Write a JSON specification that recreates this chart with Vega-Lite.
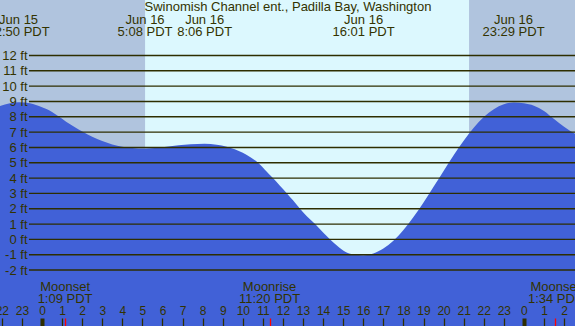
{
  "$schema": "https://vega.github.io/schema/vega-lite/v6.json",
  "width": 575,
  "height": 326,
  "autosize": {"type": "none"},
  "padding": 0,
  "background": "#dcf8fe",
  "config": {
    "view": {"stroke": null, "fill": "#dcf8fe"},
    "font": "Liberation Sans",
    "text": {"font": "Liberation Sans", "fontSize": 13, "color": "#333300"}
  },
  "layer": [
    {
      "data": {"values": [{"t": -2.2, "t2": 5.133}, {"t": 21.267, "t2": 26.7}]},
      "mark": {"type": "rect", "color": "#b0c4de", "clip": true},
      "encoding": {
        "x": {"field": "t", "type": "quantitative", "scale": {"domain": [-2.092, 26.544], "nice": false, "zero": false}},
        "x2": {"field": "t2"}
      }
    },
    {
      "data": {"values": [
        {"t": -2.1, "ft": 8.70}, {"t": -1.6, "ft": 8.88}, {"t": -1.15, "ft": 8.95}, {"t": -0.6, "ft": 8.88},
        {"t": 0, "ft": 8.62}, {"t": 0.5, "ft": 8.32}, {"t": 0.8, "ft": 8.05}, {"t": 1.2, "ft": 7.68},
        {"t": 1.6, "ft": 7.35}, {"t": 2.05, "ft": 7.0}, {"t": 2.5, "ft": 6.7}, {"t": 3.0, "ft": 6.42},
        {"t": 3.5, "ft": 6.2}, {"t": 4.0, "ft": 6.05}, {"t": 4.5, "ft": 5.97}, {"t": 5.1, "ft": 5.93},
        {"t": 5.6, "ft": 5.96}, {"t": 6.2, "ft": 6.05}, {"t": 6.8, "ft": 6.15}, {"t": 7.4, "ft": 6.21},
        {"t": 8.1, "ft": 6.24}, {"t": 8.7, "ft": 6.18}, {"t": 9.2, "ft": 6.05}, {"t": 9.6, "ft": 5.88},
        {"t": 10.0, "ft": 5.65}, {"t": 10.4, "ft": 5.35}, {"t": 10.76, "ft": 5.0}, {"t": 11.1, "ft": 4.55},
        {"t": 11.5, "ft": 4.0}, {"t": 11.85, "ft": 3.5}, {"t": 12.2, "ft": 3.0}, {"t": 12.5, "ft": 2.55},
        {"t": 12.85, "ft": 2.0}, {"t": 13.2, "ft": 1.5}, {"t": 13.6, "ft": 1.0}, {"t": 14.0, "ft": 0.45},
        {"t": 14.35, "ft": 0.0}, {"t": 14.7, "ft": -0.42}, {"t": 15.1, "ft": -0.8}, {"t": 15.5, "ft": -0.97},
        {"t": 16.0, "ft": -1.03}, {"t": 16.5, "ft": -0.92}, {"t": 17.0, "ft": -0.6}, {"t": 17.5, "ft": -0.08},
        {"t": 18.0, "ft": 0.62}, {"t": 18.5, "ft": 1.46}, {"t": 19.0, "ft": 2.41}, {"t": 19.5, "ft": 3.43},
        {"t": 20.0, "ft": 4.47}, {"t": 20.5, "ft": 5.49}, {"t": 21.0, "ft": 6.44}, {"t": 21.5, "ft": 7.28},
        {"t": 22.0, "ft": 7.98}, {"t": 22.5, "ft": 8.5}, {"t": 23.0, "ft": 8.82}, {"t": 23.5, "ft": 8.93},
        {"t": 24.0, "ft": 8.88}, {"t": 24.5, "ft": 8.72}, {"t": 25.0, "ft": 8.38}, {"t": 25.5, "ft": 7.85},
        {"t": 26.0, "ft": 7.35}, {"t": 26.6, "ft": 6.85}
      ]},
      "mark": {"type": "area", "color": "#4161d7", "interpolate": "monotone", "clip": true},
      "encoding": {
        "x": {
          "field": "t", "type": "quantitative",
          "axis": {
            "orient": "top", "offset": -326, "title": null, "zindex": 2, "tickCount": 200,
            "values": [-2, -1, 0, 1, 2, 3, 4, 5, 6, 7, 8, 9, 10, 11, 12, 13, 14, 15, 16, 17, 18, 19, 20, 21, 22, 23, 24, 25, 26, 1.15, 11.333, 25.567],
            "labelExpr": "datum.value % 1 == 0 ? '' + ((datum.value + 24) % 24) : ''",
            "domain": false, "grid": false, "tickSize": 8,
            "tickColor": {"condition": {"test": "datum.value % 1 != 0", "value": "#ff0000"}, "value": "#2e2e00"},
            "tickWidth": {"condition": {"test": "datum.value % 24 == 0", "value": 4}, "value": 1.3},
            "labelPadding": 0.5, "labelFlush": false, "labelOverlap": false, "labelBound": false,
            "labelFont": "Liberation Sans", "labelFontSize": 12, "labelColor": "#333300"
          }
        },
        "y": {
          "field": "ft", "type": "quantitative",
          "scale": {"domain": [-5.65, 15.62], "nice": false, "zero": false},
          "axis": {
            "orient": "left", "offset": -29, "title": null, "zindex": 2, "tickCount": 200,
            "values": [-2, -1, 0, 1, 2, 3, 4, 5, 6, 7, 8, 9, 10, 11, 12],
            "labelExpr": "datum.value + ' ft'", "labelOverlap": false,
            "domain": false, "grid": false, "ticks": false, "tickSize": 0,
            "labelPadding": 2, "labelFont": "Liberation Sans", "labelFontSize": 13, "labelColor": "#333300"
          }
        },
        "y2": {"datum": -5.65}
      }
    },
    {
      "data": {"values": [{"ft": -2}, {"ft": -1}, {"ft": 0}, {"ft": 1}, {"ft": 2}, {"ft": 3}, {"ft": 4}, {"ft": 5}, {"ft": 6}, {"ft": 7}, {"ft": 8}, {"ft": 9}, {"ft": 10}, {"ft": 11}, {"ft": 12}]},
      "mark": {"type": "rule", "color": "#2e2e00", "strokeWidth": 1.4},
      "encoding": {
        "y": {"field": "ft", "type": "quantitative"},
        "x": {"datum": -0.65},
        "x2": {"datum": 26.6}
      }
    },
    {
      "data": {"values": [{"label": "Swinomish Channel ent., Padilla Bay, Washington"}]},
      "mark": {"type": "text", "align": "center", "baseline": "alphabetic"},
      "encoding": {
        "text": {"field": "label"},
        "x": {"datum": 12.25},
        "y": {"datum": 14.9}
      }
    },
    {
      "data": {"values": [
        {"t": -1.167, "label": "Jun 15\n22:50 PDT"},
        {"t": 5.133, "label": "Jun 16\n5:08 PDT"},
        {"t": 8.1, "label": "Jun 16\n8:06 PDT"},
        {"t": 16.017, "label": "Jun 16\n16:01 PDT"},
        {"t": 23.483, "label": "Jun 16\n23:29 PDT"}
      ]},
      "mark": {"type": "text", "align": "center", "baseline": "alphabetic", "lineBreak": "\n", "lineHeight": 12},
      "encoding": {
        "text": {"field": "label"},
        "x": {"field": "t", "type": "quantitative"},
        "y": {"datum": 14.05}
      }
    },
    {
      "data": {"values": [
        {"t": 1.15, "label": "Moonset\n1:09 PDT"},
        {"t": 11.333, "label": "Moonrise\n11:20 PDT"},
        {"t": 25.567, "label": "Moonset\n1:34 PDT"}
      ]},
      "mark": {"type": "text", "align": "center", "baseline": "alphabetic", "lineBreak": "\n", "lineHeight": 12.5},
      "encoding": {
        "text": {"field": "label"},
        "x": {"field": "t", "type": "quantitative"},
        "y": {"datum": -3.35}
      }
    }
  ]
}
